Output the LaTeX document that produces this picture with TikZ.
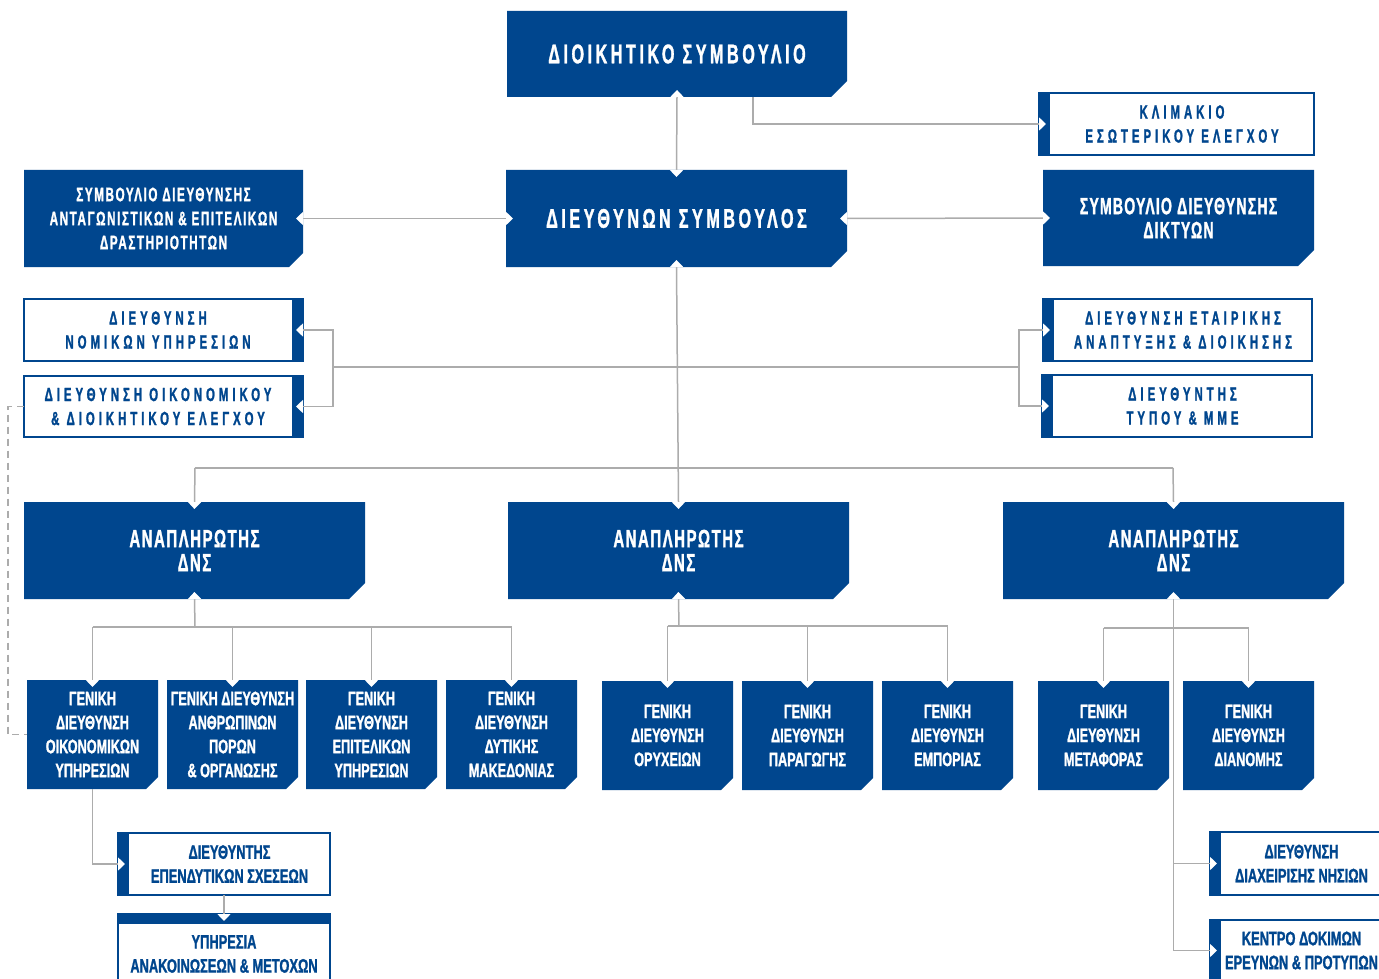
\documentclass[tikz,border=0pt]{standalone}
\usepackage{fontspec}
\setmainfont{Liberation Sans}
\newfontfamily\cnd{Liberation Sans Bold}[FakeStretch=0.6, FakeBold=1.2]
\newfontfamily\cns{Liberation Sans Bold}[FakeStretch=0.65, FakeBold=1.2]
\newfontfamily\cnw{Liberation Sans Bold}[FakeStretch=0.66, FakeBold=1.2]
\usetikzlibrary{arrows.meta}
\definecolor{cblue}{RGB}{0,70,142}
\definecolor{cgray}{RGB}{172,172,172}
\tikzset{
  notch/.tip={Triangle[width=13pt,length=7pt,color=white]},
  conn/.style={cgray, line width=1.5pt},
  nE/.style={conn, -notch, shorten >=-7pt},
  nS/.style={conn, notch-, shorten <=-7pt},
  nB/.style={conn, notch-notch, shorten >=-7pt, shorten <=-7pt},
  boxn/.style={rectangle, inner sep=0pt, outer sep=0pt, align=center},
  wbox/.style={draw=cblue, fill=white, line width=1.3pt},
  tbig/.style={text=white, align=center, inner sep=0pt, font=\cnd\fontsize{27}{30}\selectfont\addfontfeature{LetterSpace=13}},
  tmed/.style={text=white, align=center, inner sep=0pt, font=\cnd\fontsize{19.5}{24}\selectfont\addfontfeature{LetterSpace=8}},
  tmedl/.style={text=white, align=center, inner sep=0pt, font=\cnd\fontsize{23.5}{24}\selectfont\addfontfeature{LetterSpace=5}},
  twide/.style={text=cblue, align=center, inner sep=0pt, font=\cnd\fontsize{19}{24}\selectfont\addfontfeature{LetterSpace=21}},
  tana/.style={text=white, align=center, inner sep=0pt, font=\cnd\fontsize{25}{24}\selectfont\addfontfeature{LetterSpace=6}},
  tsm/.style={text=white, align=center, inner sep=0pt, font=\cns\fontsize{19.5}{24}\selectfont},
  tsmb/.style={text=cblue, align=center, inner sep=0pt, font=\cnw\fontsize{19.5}{24}\selectfont},
}
% filled box with cut corner: name x1 y1 x2 y2 cut style text
\newcommand\FB[8]{%
  \fill[cblue] (#2,#3) -- (#4,#3) -- (#4,{#5-#6}) -- ({#4-#6},#5) -- (#2,#5) -- cycle;
  \node[boxn, minimum width={(#4-#2)*1pt}, minimum height={(#5-#3)*1pt}, #7] (#1) at ({(#2+#4)/2},{(#3+#5)/2}) {#8};}
% white boxes with bar left / right / top: name x1 y1 x2 y2 style text
\newcommand\WBL[7]{%
  \filldraw[wbox] (#2,#3) rectangle (#4,#5);
  \fill[cblue] (#2,#3) rectangle ({#2+11},#5);
  \node[boxn, minimum width={(#4-#2)*1pt}, minimum height={(#5-#3)*1pt}] (#1) at ({(#2+#4)/2},{(#3+#5)/2}) {};
  \node[#6] (#1t) at ({(#2+11+#4)/2},{(#3+#5)/2}) {#7};}
\newcommand\WBR[7]{%
  \filldraw[wbox] (#2,#3) rectangle (#4,#5);
  \fill[cblue] ({#4-11},#3) rectangle (#4,#5);
  \node[boxn, minimum width={(#4-#2)*1pt}, minimum height={(#5-#3)*1pt}] (#1) at ({(#2+#4)/2},{(#3+#5)/2}) {};
  \node[#6] (#1t) at ({(#2+#4-11)/2},{(#3+#5)/2}) {#7};}
\newcommand\WBT[7]{%
  \filldraw[wbox] (#2,#3) rectangle (#4,#5);
  \fill[cblue] (#2,#3) rectangle (#4,{#3+10});
  \node[boxn, minimum width={(#4-#2)*1pt}, minimum height={(#5-#3)*1pt}] (#1) at ({(#2+#4)/2},{(#3+#5)/2}) {};
  \node[#6] (#1t) at ({(#2+#4)/2},{(#3+10+#5)/2}) {#7};}

\begin{document}
\begin{tikzpicture}[x=1pt, y=-1pt]
\useasboundingbox (0,0) rectangle (1379,979);
\fill[white] (0,0) rectangle (1379,979);
\clip (0,0) rectangle (1379,979);

% top level
\FB{d1}{507}{11}{847}{97}{16}{tbig}{ΔΙΟΙΚΗΤΙΚΟ ΣΥΜΒΟΥΛΙΟ}
\FB{d2}{506}{170}{847}{267}{16}{tbig}{ΔΙΕΥΘΥΝΩΝ ΣΥΜΒΟΥΛΟΣ}
\WBL{d3}{1039}{93}{1314}{155}{twide}{ΚΛΙΜΑΚΙΟ\\ΕΣΩΤΕΡΙΚΟΥ ΕΛΕΓΧΟΥ}
\FB{d4}{1043}{170}{1314}{266}{16}{tmedl}{ΣΥΜΒΟΥΛΙΟ ΔΙΕΥΘΥΝΣΗΣ\\ΔΙΚΤΥΩΝ}
\FB{d5}{24}{170}{303}{267}{14}{tmed}{ΣΥΜΒΟΥΛΙΟ ΔΙΕΥΘΥΝΣΗΣ\\ΑΝΤΑΓΩΝΙΣΤΙΚΩΝ \& ΕΠΙΤΕΛΙΚΩΝ\\ΔΡΑΣΤΗΡΙΟΤΗΤΩΝ}
\WBR{d6}{24}{299}{303}{361}{twide}{ΔΙΕΥΘΥΝΣΗ\\ΝΟΜΙΚΩΝ ΥΠΗΡΕΣΙΩΝ}
\WBR{d7}{24}{376}{303}{437}{twide}{ΔΙΕΥΘΥΝΣΗ ΟΙΚΟΝΟΜΙΚΟΥ\\\& ΔΙΟΙΚΗΤΙΚΟΥ ΕΛΕΓΧΟΥ}
\WBL{d8}{1043}{299}{1312}{361}{twide}{ΔΙΕΥΘΥΝΣΗ ΕΤΑΙΡΙΚΗΣ\\ΑΝΑΠΤΥΞΗΣ \& ΔΙΟΙΚΗΣΗΣ}
\WBL{d9}{1042}{375}{1312}{437}{twide}{ΔΙΕΥΘΥΝΤΗΣ\\ΤΥΠΟΥ \& ΜΜΕ}

% deputies
\FB{d10}{24}{502}{365}{599}{16}{tana}{ΑΝΑΠΛΗΡΩΤΗΣ\\ΔΝΣ}
\FB{d11}{508}{502}{849}{599}{16}{tana}{ΑΝΑΠΛΗΡΩΤΗΣ\\ΔΝΣ}
\FB{d12}{1003}{502}{1344}{599}{16}{tana}{ΑΝΑΠΛΗΡΩΤΗΣ\\ΔΝΣ}

% general directorates
\FB{d13}{27}{680}{158}{789}{12}{tsm}{ΓΕΝΙΚΗ\\ΔΙΕΥΘΥΝΣΗ\\ΟΙΚΟΝΟΜΙΚΩΝ\\ΥΠΗΡΕΣΙΩΝ}
\FB{d14}{167}{680}{298}{789}{12}{tsm}{ΓΕΝΙΚΗ ΔΙΕΥΘΥΝΣΗ\\ΑΝΘΡΩΠΙΝΩΝ\\ΠΟΡΩΝ\\\& ΟΡΓΑΝΩΣΗΣ}
\FB{d15}{306}{680}{437}{789}{12}{tsm}{ΓΕΝΙΚΗ\\ΔΙΕΥΘΥΝΣΗ\\ΕΠΙΤΕΛΙΚΩΝ\\ΥΠΗΡΕΣΙΩΝ}
\FB{d16}{446}{680}{577}{789}{12}{tsm}{ΓΕΝΙΚΗ\\ΔΙΕΥΘΥΝΣΗ\\ΔΥΤΙΚΗΣ\\ΜΑΚΕΔΟΝΙΑΣ}
\FB{d17}{602}{681}{733}{790}{12}{tsm}{ΓΕΝΙΚΗ\\ΔΙΕΥΘΥΝΣΗ\\ΟΡΥΧΕΙΩΝ}
\FB{d18}{742}{681}{873}{790}{12}{tsm}{ΓΕΝΙΚΗ\\ΔΙΕΥΘΥΝΣΗ\\ΠΑΡΑΓΩΓΗΣ}
\FB{d19}{882}{681}{1013}{790}{12}{tsm}{ΓΕΝΙΚΗ\\ΔΙΕΥΘΥΝΣΗ\\ΕΜΠΟΡΙΑΣ}
\FB{d20}{1038}{681}{1169}{790}{12}{tsm}{ΓΕΝΙΚΗ\\ΔΙΕΥΘΥΝΣΗ\\ΜΕΤΑΦΟΡΑΣ}
\FB{d21}{1183}{681}{1314}{790}{12}{tsm}{ΓΕΝΙΚΗ\\ΔΙΕΥΘΥΝΣΗ\\ΔΙΑΝΟΜΗΣ}

% lower boxes
\WBL{d22}{1210}{832}{1382}{895}{tsmb}{ΔΙΕΥΘΥΝΣΗ\\ΔΙΑΧΕΙΡΙΣΗΣ ΝΗΣΙΩΝ}
\WBL{d23}{1210}{920}{1382}{981}{tsmb}{ΚΕΝΤΡΟ ΔΟΚΙΜΩΝ\\ΕΡΕΥΝΩΝ \& ΠΡΟΤΥΠΩΝ}
\WBL{d24}{118}{833}{330}{895}{tsmb}{ΔΙΕΥΘΥΝΤΗΣ\\ΕΠΕΝΔΥΤΙΚΩΝ ΣΧΕΣΕΩΝ}
\WBT{d25}{118}{914}{330}{984}{tsmb}{ΥΠΗΡΕΣΙΑ\\ΑΝΑΚΟΙΝΩΣΕΩΝ \& ΜΕΤΟΧΩΝ}

% junction coordinates
\coordinate (jl) at (333,367);
\coordinate (jr) at (1019,367);
\coordinate (hl) at (195,468);
\coordinate (hr) at (1173,468);
\coordinate (ga) at (195,627);
\coordinate (gb) at (679,626);
\coordinate (gc) at (1175,628);

% connectors
\draw[nB] (d1.south) -- (d2.north);
\draw[nE] ([xshift=76pt]d1.south) |- (d3.west);
\draw[nB] (d5.east) -- (d2.west);
\draw[nB] (d2.east) -- (d4.west);
\draw[nB] (d2.south) -- (d11.north);
\draw[conn] (jl) -- (jr);
\draw[nB] (d6.east) -| (jl) |- (d7.east);
\draw[nB] (d8.west) -| (jr) |- (d9.west);
\draw[conn] (hl) -- (hr);
\draw[nE] (hl) -- (d10.north);
\draw[nE] (hr) -- (d12.north);

\draw[nS] (d10.south) -- (ga);
\draw[conn] (d13.north |- ga) -- (d16.north |- ga);
\draw[nE] (d13.north |- ga) -- (d13.north);
\draw[nE] (d14.north |- ga) -- (d14.north);
\draw[nE] (d15.north |- ga) -- (d15.north);
\draw[nE] (d16.north |- ga) -- (d16.north);

\draw[nS] (d11.south) -- (gb);
\draw[conn] (d17.north |- gb) -- (d19.north |- gb);
\draw[nE] (d17.north |- gb) -- (d17.north);
\draw[nE] (d18.north |- gb) -- (d18.north);
\draw[nE] (d19.north |- gb) -- (d19.north);

\draw[conn] (d20.north |- gc) -- (d21.north |- gc);
\draw[nE] (d20.north |- gc) -- (d20.north);
\draw[nE] (d21.north |- gc) -- (d21.north);
\draw[nS] (d12.south) -- (d12.south |- d23.west);
\draw[nE] (d12.south |- d22.west) -- (d22.west);
\draw[nE] (d12.south |- d23.west) -- (d23.west);

\draw[nE] (d13.south) |- (d24.west);
\draw[nE] (d24.south) -- (d25.north);
\draw[cgray, line width=1.4pt, dash pattern=on 7pt off 5pt] (d7.west) -- ++(-16,0) |- (d13.west);
\end{tikzpicture}
\end{document}
